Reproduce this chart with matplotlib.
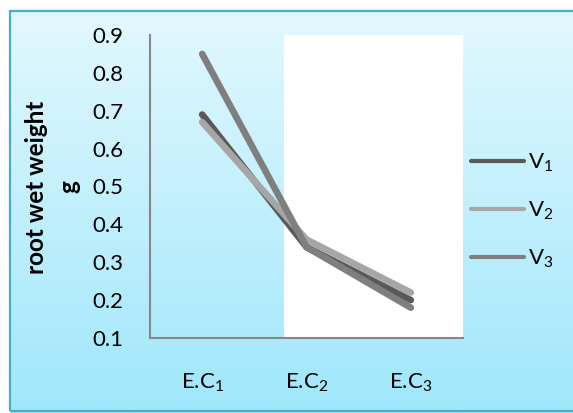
import numpy as np
import matplotlib
matplotlib.use("Agg")
import matplotlib.pyplot as plt
from matplotlib.lines import Line2D
from matplotlib.patches import Rectangle

# Data
categories = ["E.C$_\\mathrm{1}$", "E.C$_\\mathrm{2}$", "E.C$_\\mathrm{3}$"]
series_names = ["V$_\\mathrm{1}$", "V$_\\mathrm{2}$", "V$_\\mathrm{3}$"]
v1 = [0.69, 0.34, 0.20]
v2 = [0.67, 0.36, 0.22]
v3 = [0.85, 0.34, 0.18]
yticks = [0.1, 0.2, 0.3, 0.4, 0.5, 0.6, 0.7, 0.8, 0.9]

COLORS = ["#595959", "#a6a6a6", "#7f7f7f"]
FONT = ["Lato", "DejaVu Sans"]
W, H = 573, 413

plt.rcParams["font.family"] = FONT
plt.rcParams["mathtext.fontset"] = "custom"
plt.rcParams["mathtext.rm"] = "Lato"
plt.rcParams["mathtext.it"] = "Lato:italic"
plt.rcParams["mathtext.bf"] = "Lato:bold"

fig = plt.figure(figsize=(W / 100, H / 100), dpi=100)

# Background panel with vertical gradient and teal border
bg = fig.add_axes([10 / W, 0, 1 - 10 / W, (H - 11) / H])
top = np.array([226, 248, 254]) / 255
bot = np.array([160, 231, 251]) / 255
t = np.linspace(0, 1, 256)[:, None]
grad = top * (1 - t[..., None]) + bot * t[..., None]
grad = np.repeat(grad, 2, axis=1)
bg.imshow(grad, aspect="auto", extent=[0, 1, 0, 1], origin="upper")
bg.set_xlim(0, 1)
bg.set_ylim(0, 1)
bg.axis("off")
bg.add_patch(Rectangle((0, 0.004), 1.2, 0.996, transform=bg.transAxes, fill=False,
                       edgecolor="#4bacc6", linewidth=1.6, clip_on=False))

# Plot area
ax = fig.add_axes([150 / W, 75 / H, 313 / W, 303 / H])
ax.set_facecolor("none")
x = np.arange(len(categories))
ax.axvspan(0.785, 2.5, color="white", zorder=0, linewidth=0)

for vals, name, c in zip([v1, v2, v3], series_names, COLORS):
    ax.plot(x, vals, color=c, linewidth=4.8, solid_capstyle="round",
            solid_joinstyle="round", label=name, zorder=3)

ax.set_xlim(-0.5, 2.5)
ax.set_ylim(0.1, 0.9)
ax.set_yticks(yticks)
ax.set_yticklabels([f"{v:.1f}" for v in yticks])
ax.set_xticks(x)
ax.set_xticklabels(categories)
ax.tick_params(axis="y", length=0, pad=19, labelsize=16)
ax.tick_params(axis="x", length=0, pad=24, labelsize=16)
for side in ["top", "right"]:
    ax.spines[side].set_visible(False)
for side in ["left", "bottom"]:
    ax.spines[side].set_color("#868686")
    ax.spines[side].set_linewidth(1.5)

fig.text(53 / W, (H - 187) / H, "root wet weight\ng", rotation=90,
         ha="center", va="center", fontsize=17.5, fontweight="bold",
         linespacing=1.5)

handles = [Line2D([], [], color=c, linewidth=3, solid_capstyle="round")
           for c in COLORS]
fig.legend(handles, series_names, loc="center left",
           bbox_to_anchor=(471 / W, (H - 211) / H), frameon=False,
           fontsize=16, handlelength=2.4, handletextpad=0.15,
           labelspacing=1.15, borderpad=0, borderaxespad=0)

fig.savefig("out.png", dpi=100)
